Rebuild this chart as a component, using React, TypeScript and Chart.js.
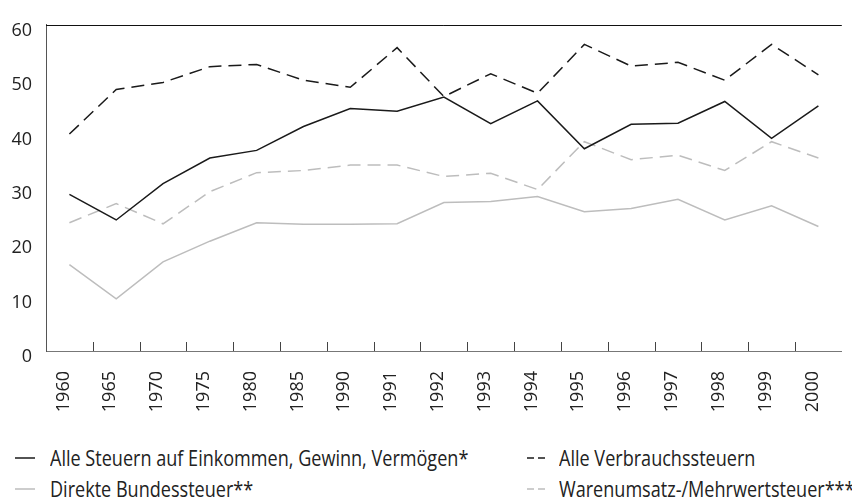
import React, { useEffect, useRef } from "react";
import { Chart, registerables } from "chart.js";

Chart.register(...registerables);

const years = ["1960", "1965", "1970", "1975", "1980", "1985", "1990", "1991", "1992", "1993", "1994", "1995", "1996", "1997", "1998", "1999", "2000"];
const einkommen = [28.8, 24.1, 30.8, 35.5, 36.9, 41.3, 44.6, 44.1, 46.7, 41.8, 46.0, 37.2, 41.7, 41.9, 45.9, 39.1, 45.1];
const verbrauch = [39.9, 48.1, 49.4, 52.3, 52.7, 49.8, 48.5, 55.8, 46.8, 51.0, 47.4, 56.4, 52.4, 53.1, 49.8, 56.4, 50.8];
const bundessteuer = [15.9, 9.6, 16.4, 20.2, 23.6, 23.3, 23.3, 23.4, 27.3, 27.5, 28.4, 25.6, 26.2, 27.9, 24.1, 26.7, 22.9];
const warenumsatz = [23.6, 27.1, 23.4, 29.3, 32.8, 33.2, 34.2, 34.2, 32.1, 32.7, 29.7, 38.5, 35.2, 36.0, 33.2, 38.5, 35.5];

const seriesNames = [
  "Alle Steuern auf Einkommen, Gewinn, Vermögen*",
  "Alle Verbrauchssteuern",
  "Direkte Bundessteuer**",
  "Warenumsatz-/Mehrwertsteuer***",
];
const BLACK = "#1a1a1a";
const GRAY = "#bdbdbd";
const seriesStyles = [
  { color: BLACK, dash: [] as number[] },
  { color: BLACK, dash: [13, 7] },
  { color: GRAY, dash: [] as number[] },
  { color: GRAY, dash: [13, 7] },
];
const seriesData = [einkommen, verbrauch, bundessteuer, warenumsatz];

const FONT = "'Open Sans', sans-serif";

const framePlugin = {
  id: "frame",
  afterDraw(chart: any) {
    const { ctx, chartArea, scales } = chart;
    const x = scales.x;
    ctx.save();
    ctx.strokeStyle = "#444";
    ctx.lineWidth = 1;
    const n = x.ticks.length;
    for (let i = 1; i < n; i++) {
      const px = Math.round((x.getPixelForTick(i - 1) + x.getPixelForTick(i)) / 2) + 0.5;
      ctx.beginPath();
      ctx.moveTo(px, chartArea.bottom - 9);
      ctx.lineTo(px, chartArea.bottom);
      ctx.stroke();
    }
    ctx.strokeStyle = "#111";
    ctx.beginPath();
    ctx.moveTo(chartArea.left, Math.round(chartArea.top) + 0.5);
    ctx.lineTo(chartArea.right, Math.round(chartArea.top) + 0.5);
    ctx.stroke();
    ctx.restore();
  },
};

function LegendSymbol({ color, dash }: { color: string; dash: number[] }) {
  return (
    <svg width={20} height={4} style={{ display: "block" }}>
      <line
        x1={0}
        y1={2}
        x2={20}
        y2={2}
        stroke={color}
        strokeWidth={1.5}
        strokeDasharray={dash.length ? "7,4" : undefined}
      />
    </svg>
  );
}

export default function App() {
  const ref = useRef<HTMLCanvasElement | null>(null);

  useEffect(() => {
    document.body.style.margin = "0";
    if (!ref.current) return;
    const chart = new Chart(ref.current, {
      type: "line",
      data: {
        labels: years,
        datasets: seriesData.map((d, i) => ({
          label: seriesNames[i],
          data: d,
          borderColor: seriesStyles[i].color,
          backgroundColor: seriesStyles[i].color,
          borderDash: seriesStyles[i].dash,
          borderWidth: 1.5,
          pointRadius: 0,
          tension: 0,
          fill: false,
        })),
      },
      options: {
        animation: false,
        responsive: false,
        layout: { padding: { left: 0, right: 0, top: 13, bottom: 0 } },
        plugins: { legend: { display: false }, tooltip: { enabled: false } },
        scales: {
          x: {
            type: "category",
            offset: true,
            grid: { display: false, drawTicks: false },
            border: { display: true, color: "#777", width: 1 },
            ticks: {
              autoSkip: false,
              minRotation: 90,
              maxRotation: 90,
              padding: 20,
              labelOffset: -6,
              color: "#222",
              font: { family: FONT, size: 18 },
            },
            afterFit: (s: any) => {
              s.height = 69;
            },
          },
          y: {
            min: 0,
            max: 60,
            grid: { display: false, drawTicks: false },
            border: { display: true, color: "#555", width: 1 },
            ticks: {
              stepSize: 10,
              padding: 14,
              labelOffset: 6,
              color: "#222",
              font: { family: FONT, size: 18 },
            },
            afterFit: (s: any) => {
              s.width = 46;
            },
          },
        },
      },
      plugins: [framePlugin],
    });
    return () => chart.destroy();
  }, []);

  const cols = [15, 527];
  const rows = [444, 475];
  return (
    <div style={{ position: "relative", width: 852, height: 499, overflow: "hidden", background: "#fff" }}>
      <canvas ref={ref} width={860} height={420} style={{ position: "absolute", left: 0, top: 0 }} />
      {seriesNames.map((name, i) => {
        const col = i % 2;
        const row = Math.floor(i / 2);
        return (
          <div
            key={name}
            style={{
              position: "absolute",
              left: cols[col],
              top: rows[row],
              height: 28,
              display: "flex",
              alignItems: "center",
              whiteSpace: "nowrap",
              fontFamily: FONT,
              fontSize: 21,
              lineHeight: "28px",
              color: "#222",
            }}
          >
            <LegendSymbol color={seriesStyles[i].color} dash={seriesStyles[i].dash} />
            <span
              style={{
                marginLeft: col === 0 ? 15 : 12,
                display: "inline-block",
                transform: "scaleX(0.86)",
                transformOrigin: "left center",
              }}
            >
              {name}
            </span>
          </div>
        );
      })}
    </div>
  );
}
